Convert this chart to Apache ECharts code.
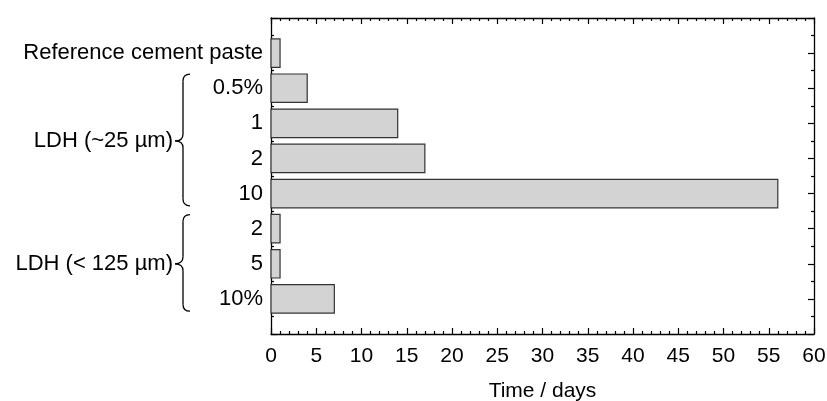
<!DOCTYPE html>
<html>
<head>
<meta charset="utf-8">
<script src="https://cdn.jsdelivr.net/npm/echarts@6/dist/echarts.min.js"></script>
<style>
html,body{margin:0;padding:0;background:#fff;}
#chart{width:827px;height:401px;}
</style>
</head>
<body>
<div id="chart"></div>
<script>
const categories = ['Reference cement paste', '0.5%', '1', '2', '10', '2', '5', '10%'];
const values = [1, 4, 14, 17, 56, 1, 1, 7];
const xTickInterval = 5;
const xMin = 0;
const xMax = 60;
const groupLabels = ['LDH (~25 µm)', 'LDH (< 125 µm)'];
const groupTop = [1.6, 5.6];
const groupBottom = [5.35, 8.35];
const groupTip = [3.5, 7];

const FONT = "'Liberation Sans', Arial, sans-serif";
const chart = echarts.init(document.getElementById('chart'), null, {renderer: 'canvas'});

const axisLine = {show: true, onZero: false, lineStyle: {color: '#000', width: 1.3}};
const data = values.map((v, i) => [v, i + 1]);

function yLabel(v) {
  const r = Math.round(v);
  if (Math.abs(v - r) < 1e-6 && r >= 1 && r <= categories.length) return categories[r - 1];
  return '';
}

const option = {
  animation: false,
  backgroundColor: '#fff',
  grid: {left: 271, right: 13, top: 18, bottom: 67, containLabel: false, outerBoundsMode: 'none'},
  xAxis: [{
    type: 'value', min: xMin, max: xMax, interval: xTickInterval, position: 'bottom',
    name: 'Time / days', nameLocation: 'middle', nameGap: 47,
    nameTextStyle: {fontFamily: FONT, fontSize: 21, color: '#000'},
    axisLine: axisLine,
    axisTick: {show: true, inside: true, length: 6, lineStyle: {color: '#000', width: 1.2}},
    minorTick: {show: true, splitNumber: 5, length: 3, lineStyle: {color: '#000', width: 1.2}},
    axisLabel: {show: true, margin: 12, fontFamily: FONT, fontSize: 21, color: '#000'},
    splitLine: {show: false}, minorSplitLine: {show: false}
  }, {
    type: 'value', min: xMin, max: xMax, interval: xTickInterval, position: 'top',
    axisLine: axisLine,
    axisTick: {show: true, inside: true, length: 6, lineStyle: {color: '#000', width: 1.2}},
    minorTick: {show: true, splitNumber: 5, length: 3, lineStyle: {color: '#000', width: 1.2}},
    axisLabel: {show: false}, splitLine: {show: false}
  }],
  yAxis: [{
    type: 'value', min: 0, max: categories.length + 1, interval: 1, inverse: true, position: 'left',
    axisLine: axisLine,
    axisTick: {show: true, inside: true, length: 6, lineStyle: {color: '#000', width: 1.2}},
    minorTick: {show: true, splitNumber: 2, length: 3, lineStyle: {color: '#000', width: 1.2}},
    axisLabel: {show: true, margin: 8, fontFamily: FONT, fontSize: 22, color: '#000', formatter: yLabel},
    splitLine: {show: false}
  }, {
    type: 'value', min: 0, max: categories.length + 1, interval: 1, inverse: true, position: 'right',
    axisLine: axisLine,
    axisTick: {show: true, inside: true, length: 6, lineStyle: {color: '#000', width: 1.2}},
    minorTick: {show: true, splitNumber: 2, length: 3, lineStyle: {color: '#000', width: 1.2}},
    axisLabel: {show: false}, splitLine: {show: false}
  }],
  series: [{
    type: 'custom',
    xAxisIndex: 0, yAxisIndex: 0,
    data: data,
    encode: {x: 0, y: 1},
    renderItem: function (params, api) {
      const y = api.value(1);
      const p0 = api.coord([0, y]);
      const p1 = api.coord([api.value(0), y]);
      const h = api.size([0, 1])[1] * 0.81;
      return {
        type: 'rect',
        shape: {x: p0[0], y: p0[1] - h / 2, width: p1[0] - p0[0], height: h},
        style: {fill: '#d3d3d3', stroke: '#333', lineWidth: 1.2}
      };
    }
  }]
};
chart.setOption(option);

// Braces and group labels placed via axis scales
const x0px = chart.convertToPixel({xAxisIndex: 0}, 0);
const graphics = [];
const bstyle = {fill: 'none', stroke: '#000', lineWidth: 1.3};
function curve(x1, y1, cx, cy, x2, y2) {
  return {type: 'bezierCurve', shape: {x1: x1, y1: y1, x2: x2, y2: y2, cpx1: cx, cpy1: cy}, style: bstyle};
}
function seg(x1, y1, x2, y2) {
  return {type: 'line', shape: {x1: x1, y1: y1, x2: x2, y2: y2}, style: bstyle};
}
groupLabels.forEach((lab, i) => {
  const yt = chart.convertToPixel({yAxisIndex: 0}, groupTop[i]);
  const yb = chart.convertToPixel({yAxisIndex: 0}, groupBottom[i]);
  const ym = chart.convertToPixel({yAxisIndex: 0}, groupTip[i]);
  const xr = x0px - 81, xm = x0px - 88, xl = x0px - 96;
  const r = 7;
  graphics.push(curve(xr, yt, xm, yt, xm, yt + r));
  graphics.push(seg(xm, yt + r, xm, ym - r));
  graphics.push(curve(xm, ym - r, xm, ym, xl, ym));
  graphics.push(curve(xl, ym, xm, ym, xm, ym + r));
  graphics.push(seg(xm, ym + r, xm, yb - r));
  graphics.push(curve(xm, yb - r, xm, yb, xr, yb));
  graphics.push({
    type: 'text', x: xl - 2, y: ym,
    style: {text: lab, font: '22px ' + FONT, fill: '#000', align: 'right', verticalAlign: 'middle'}
  });
});
chart.setOption({graphic: graphics});
</script>
</body>
</html>
